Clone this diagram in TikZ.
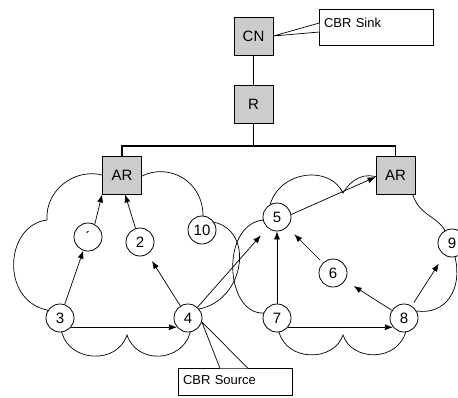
\documentclass[tikz,border=0pt]{standalone}
\usepackage{fontspec}
\setmainfont{Liberation Sans}
\usetikzlibrary{arrows.meta}

\begin{document}
\begin{tikzpicture}[x=1pt, y=1pt,
    box/.style={draw, fill=black!20, line width=0.8pt, minimum width=39pt,
      minimum height=38pt, inner sep=0pt, font=\fontsize{15}{17}\selectfont},
    host/.style={draw, circle, fill=white, line width=0.8pt, minimum size=28pt,
      inner sep=0pt, font=\fontsize{15}{17}\selectfont},
    callout/.style={draw, fill=white, line width=0.7pt, minimum width=114pt,
      text width=104pt, inner xsep=5pt, align=left, text height=9pt,
      font=\fontsize{13}{15}\selectfont},
    tree/.style={line width=1.4pt},
    cloudline/.style={line width=0.7pt},
    link/.style={line width=0.7pt, -{Latex[length=8pt,width=6pt]}}]
  \useasboundingbox (0,0) rectangle (458,-397);

  % the two access networks
  \draw[cloudline] (102,-175)
    .. controls (75,-168) and (45,-190) .. (47,-220)
    .. controls (5,-225) and (0,-300) .. (47,-310)
    -- (62,-333)
    .. controls (70,-362) and (117,-365) .. (127,-335)
    .. controls (137,-365) and (182,-362) .. (190,-333)
    -- (199,-309)
    .. controls (245,-300) and (255,-230) .. (213,-222)
    -- (203,-216)
    .. controls (203,-180) and (168,-163) .. (142,-176)
    -- cycle;
  \draw[cloudline] (270,-205)
    .. controls (280,-170) and (330,-165) .. (343,-193)
    .. controls (352,-178) and (365,-172) .. (380,-178)
    -- (412,-192)
    .. controls (418,-215) and (435,-215) .. (444,-229)
    -- (455,-257)
    .. controls (463,-290) and (445,-315) .. (417,-311)
    -- (406,-331)
    .. controls (398,-362) and (352,-362) .. (343,-335)
    .. controls (334,-362) and (287,-362) .. (279,-332)
    -- (264,-313)
    .. controls (225,-315) and (220,-225) .. (263,-220)
    -- cycle;

  \node (cn) at (253.5, -36) [box] {CN};
  \node (r) at (253.5, -104) [box] {R};
  \node (arleft) at (122, -175) [box] {AR};
  \node (arright) at (395.5, -175) [box] {AR};
  \coordinate (bus) at (253.5, -146);

  \draw[tree] (cn) -- (r);
  \draw[tree] (r) -- (bus);
  \draw[tree] (arleft.north) |- (bus) -| (arright.north);

  \node (n1) at (88, -237) [host] {´};
  \node (n2) at (140, -242) [host] {2};
  \node (n10) at (202, -230) [host] {10};
  \node (n3) at (60, -318) [host] {3};
  \node (n4) at (188, -318) [host] {4};
  \node (n5) at (277, -217) [host] {5};
  \node (n6) at (333, -273) [host] {6};
  \node (n7) at (277, -318) [host] {7};
  \node (n8) at (404, -318) [host] {8};
  \node (n9) at (452, -243) [host] {9};

  \draw[link] (n3) -- (n1);
  \draw[link] (n1.62) -- (arleft.south west);
  \draw[link] (n2.108) -- ([xshift=3pt]arleft.south);
  \draw[link, shorten >=8pt] (n4) -- (n2);
  \draw[link] (n3.-40) -- (n4.220);
  \draw[link, shorten >=10pt] (n4) -- (n5);
  \draw[link] (n7) -- (n5);
  \draw[link, shorten <=4pt, shorten >=10pt] (n6) -- (n5);
  \draw[link, shorten >=10pt] (n8) -- (n6);
  \draw[link, shorten <=4pt, shorten >=10pt] (n8) -- (n9);
  \draw[link] (n7.-40) -- (n8.220);
  \draw[link] (n5.10) -- ([yshift=-2pt]arright.west);

  \node (sink) at (376, -27) [callout, minimum height=36pt, text depth=8pt] {CBR Sink};
  \draw[line width=0.7pt, fill=white] ([xshift=0.7pt, yshift=4pt]sink.west)
    -- (cn.east) -- ([xshift=0.7pt, yshift=-5pt]sink.west);

  \node (source) at (235, -381.5) [callout, minimum height=27pt, text depth=3pt] {CBR Source};
  \draw[line width=0.7pt, fill=white] ([xshift=-15pt, yshift=-0.7pt]source.north)
    -- (n4.-16) -- ([xshift=13pt, yshift=-0.7pt]source.north);
\end{tikzpicture}
\end{document}
